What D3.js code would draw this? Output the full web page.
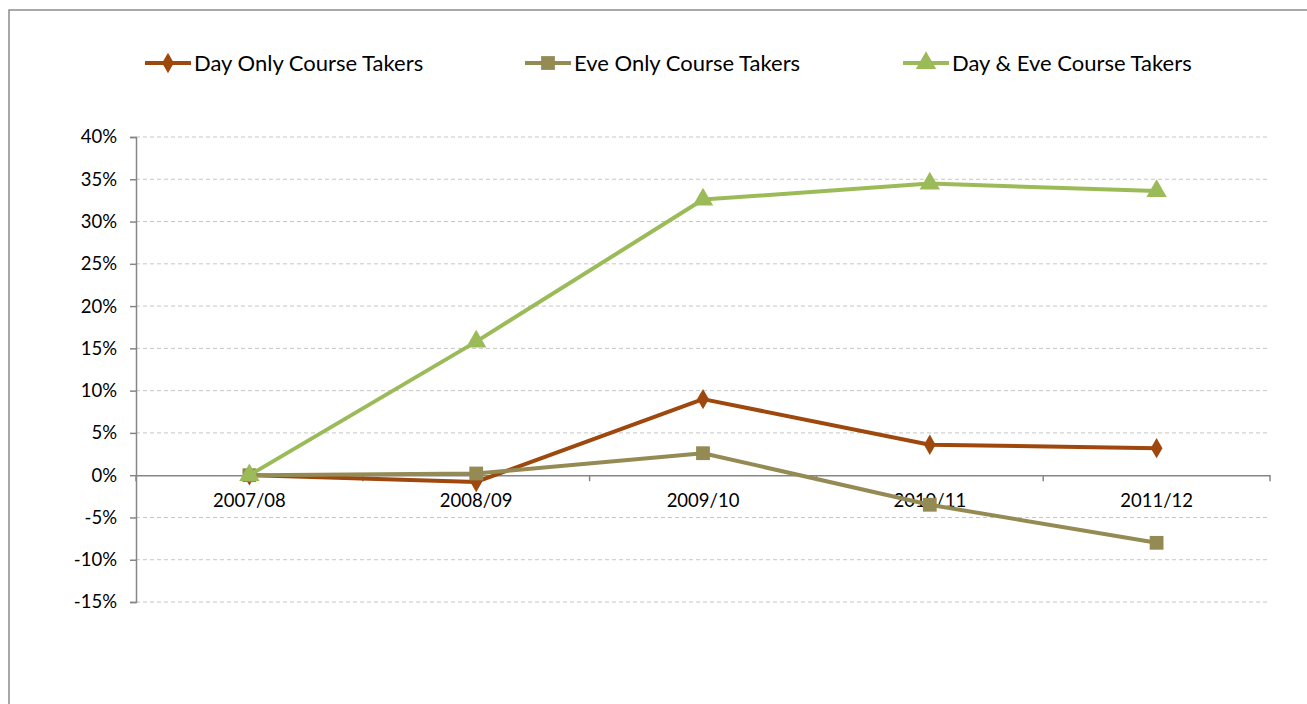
<!DOCTYPE html>
<html><head><meta charset="utf-8">
<script src="https://cdn.jsdelivr.net/npm/d3@7"></script>
<style>body{margin:0;background:#fff;}svg{display:block;font-family:Lato,"Open Sans",sans-serif;}</style>
</head><body><svg id="c" width="1307" height="704"></svg>
<script>
const categories = ["2007/08","2008/09","2009/10","2010/11","2011/12"];
const dayOnly = [0.0, -0.8, 9.0, 3.6, 3.2];
const eveOnly = [0.0, 0.2, 2.6, -3.5, -8.0];
const dayEve  = [0.0, 15.8, 32.6, 34.5, 33.6];
const yTicks = [40,35,30,25,20,15,10,5,0,-5,-10,-15];
const seriesNames = ["Day Only Course Takers","Eve Only Course Takers","Day & Eve Course Takers"];

const series = [
  {name: seriesNames[0], values: dayOnly, color: "#9E480E", marker: "diamond"},
  {name: seriesNames[1], values: eveOnly, color: "#948A54", marker: "square"},
  {name: seriesNames[2], values: dayEve,  color: "#9BBB59", marker: "triangle"}
];

const svg = d3.select("#c");
// frame
svg.append("path").attr("d","M9,704 L9,10 L1307,10").attr("fill","none").attr("stroke","#8c8c8c").attr("stroke-width",1.5);

const x = d3.scaleBand().domain(categories).range([136,1270]);
const y = d3.scaleLinear().domain([-15,40]).range([602,137]);

// gridlines
svg.append("g").selectAll("line").data(yTicks.filter(d=>d!==0)).join("line")
  .attr("x1",136).attr("x2",1270).attr("y1",d=>y(d)).attr("y2",d=>y(d))
  .attr("stroke","#c6c6c6").attr("stroke-dasharray","4,3").attr("stroke-width",1);

// y axis
const yAxis = d3.axisLeft(y).tickValues(yTicks).tickFormat(d=>d+"%").tickSize(6).tickPadding(13);
const gy = svg.append("g").attr("transform","translate(136,0)").call(yAxis);
gy.select(".domain").attr("stroke","#868686").attr("stroke-width",1.5);
gy.selectAll(".tick line").attr("stroke","#868686").attr("stroke-width",1.5);
gy.selectAll("text").attr("font-size",18.5).attr("fill","#000").attr("font-family","Lato,sans-serif");

// x axis at 0
const gx = svg.append("g").attr("transform",`translate(0,${y(0)})`).call(d3.axisBottom(x).tickSize(0).tickPadding(19));
gx.select(".domain").attr("stroke","#868686").attr("stroke-width",1.5);
gx.selectAll("text").attr("font-size",18.5).attr("fill","#000").attr("font-family","Lato,sans-serif");
const bounds = categories.map(c=>x(c)).concat([x(categories[categories.length-1])+x.bandwidth()]);
svg.append("g").selectAll("line").data(bounds).join("line")
  .attr("x1",d=>d).attr("x2",d=>d).attr("y1",y(0)).attr("y2",y(0)+6)
  .attr("stroke","#868686").attr("stroke-width",1.5);

const cx = c => x(c) + x.bandwidth()/2;
const line = d3.line().x((d,i)=>cx(categories[i])).y(d=>y(d));

function markerPath(type){
  if(type==="diamond") return d3.symbol(d3.symbolDiamond, 120)();
  if(type==="square") return d3.symbol(d3.symbolSquare, 190)();
  return d3.symbol(d3.symbolTriangle, 180)();
}

series.forEach(s=>{
  svg.append("path").datum(s.values).attr("d",line).attr("fill","none")
    .attr("stroke",s.color).attr("stroke-width",4).attr("stroke-linejoin","round");
  svg.append("g").selectAll("path").data(s.values).join("path")
    .attr("d",markerPath(s.marker))
    .attr("transform",(d,i)=>`translate(${cx(categories[i])},${y(d)})`)
    .attr("fill",s.color);
});

// legend
const legX = [145, 525, 903];
const leg = svg.append("g");
series.forEach((s,i)=>{
  const g = leg.append("g").attr("transform",`translate(${legX[i]},63)`);
  g.append("line").attr("x1",0).attr("x2",46).attr("stroke",s.color).attr("stroke-width",4);
  g.append("path").attr("d",markerPath(s.marker)).attr("transform","translate(23,0)").attr("fill",s.color);
  g.append("text").attr("x",49).attr("y",8).attr("font-size",22).attr("fill","#000").text(s.name);
});
</script></body></html>
